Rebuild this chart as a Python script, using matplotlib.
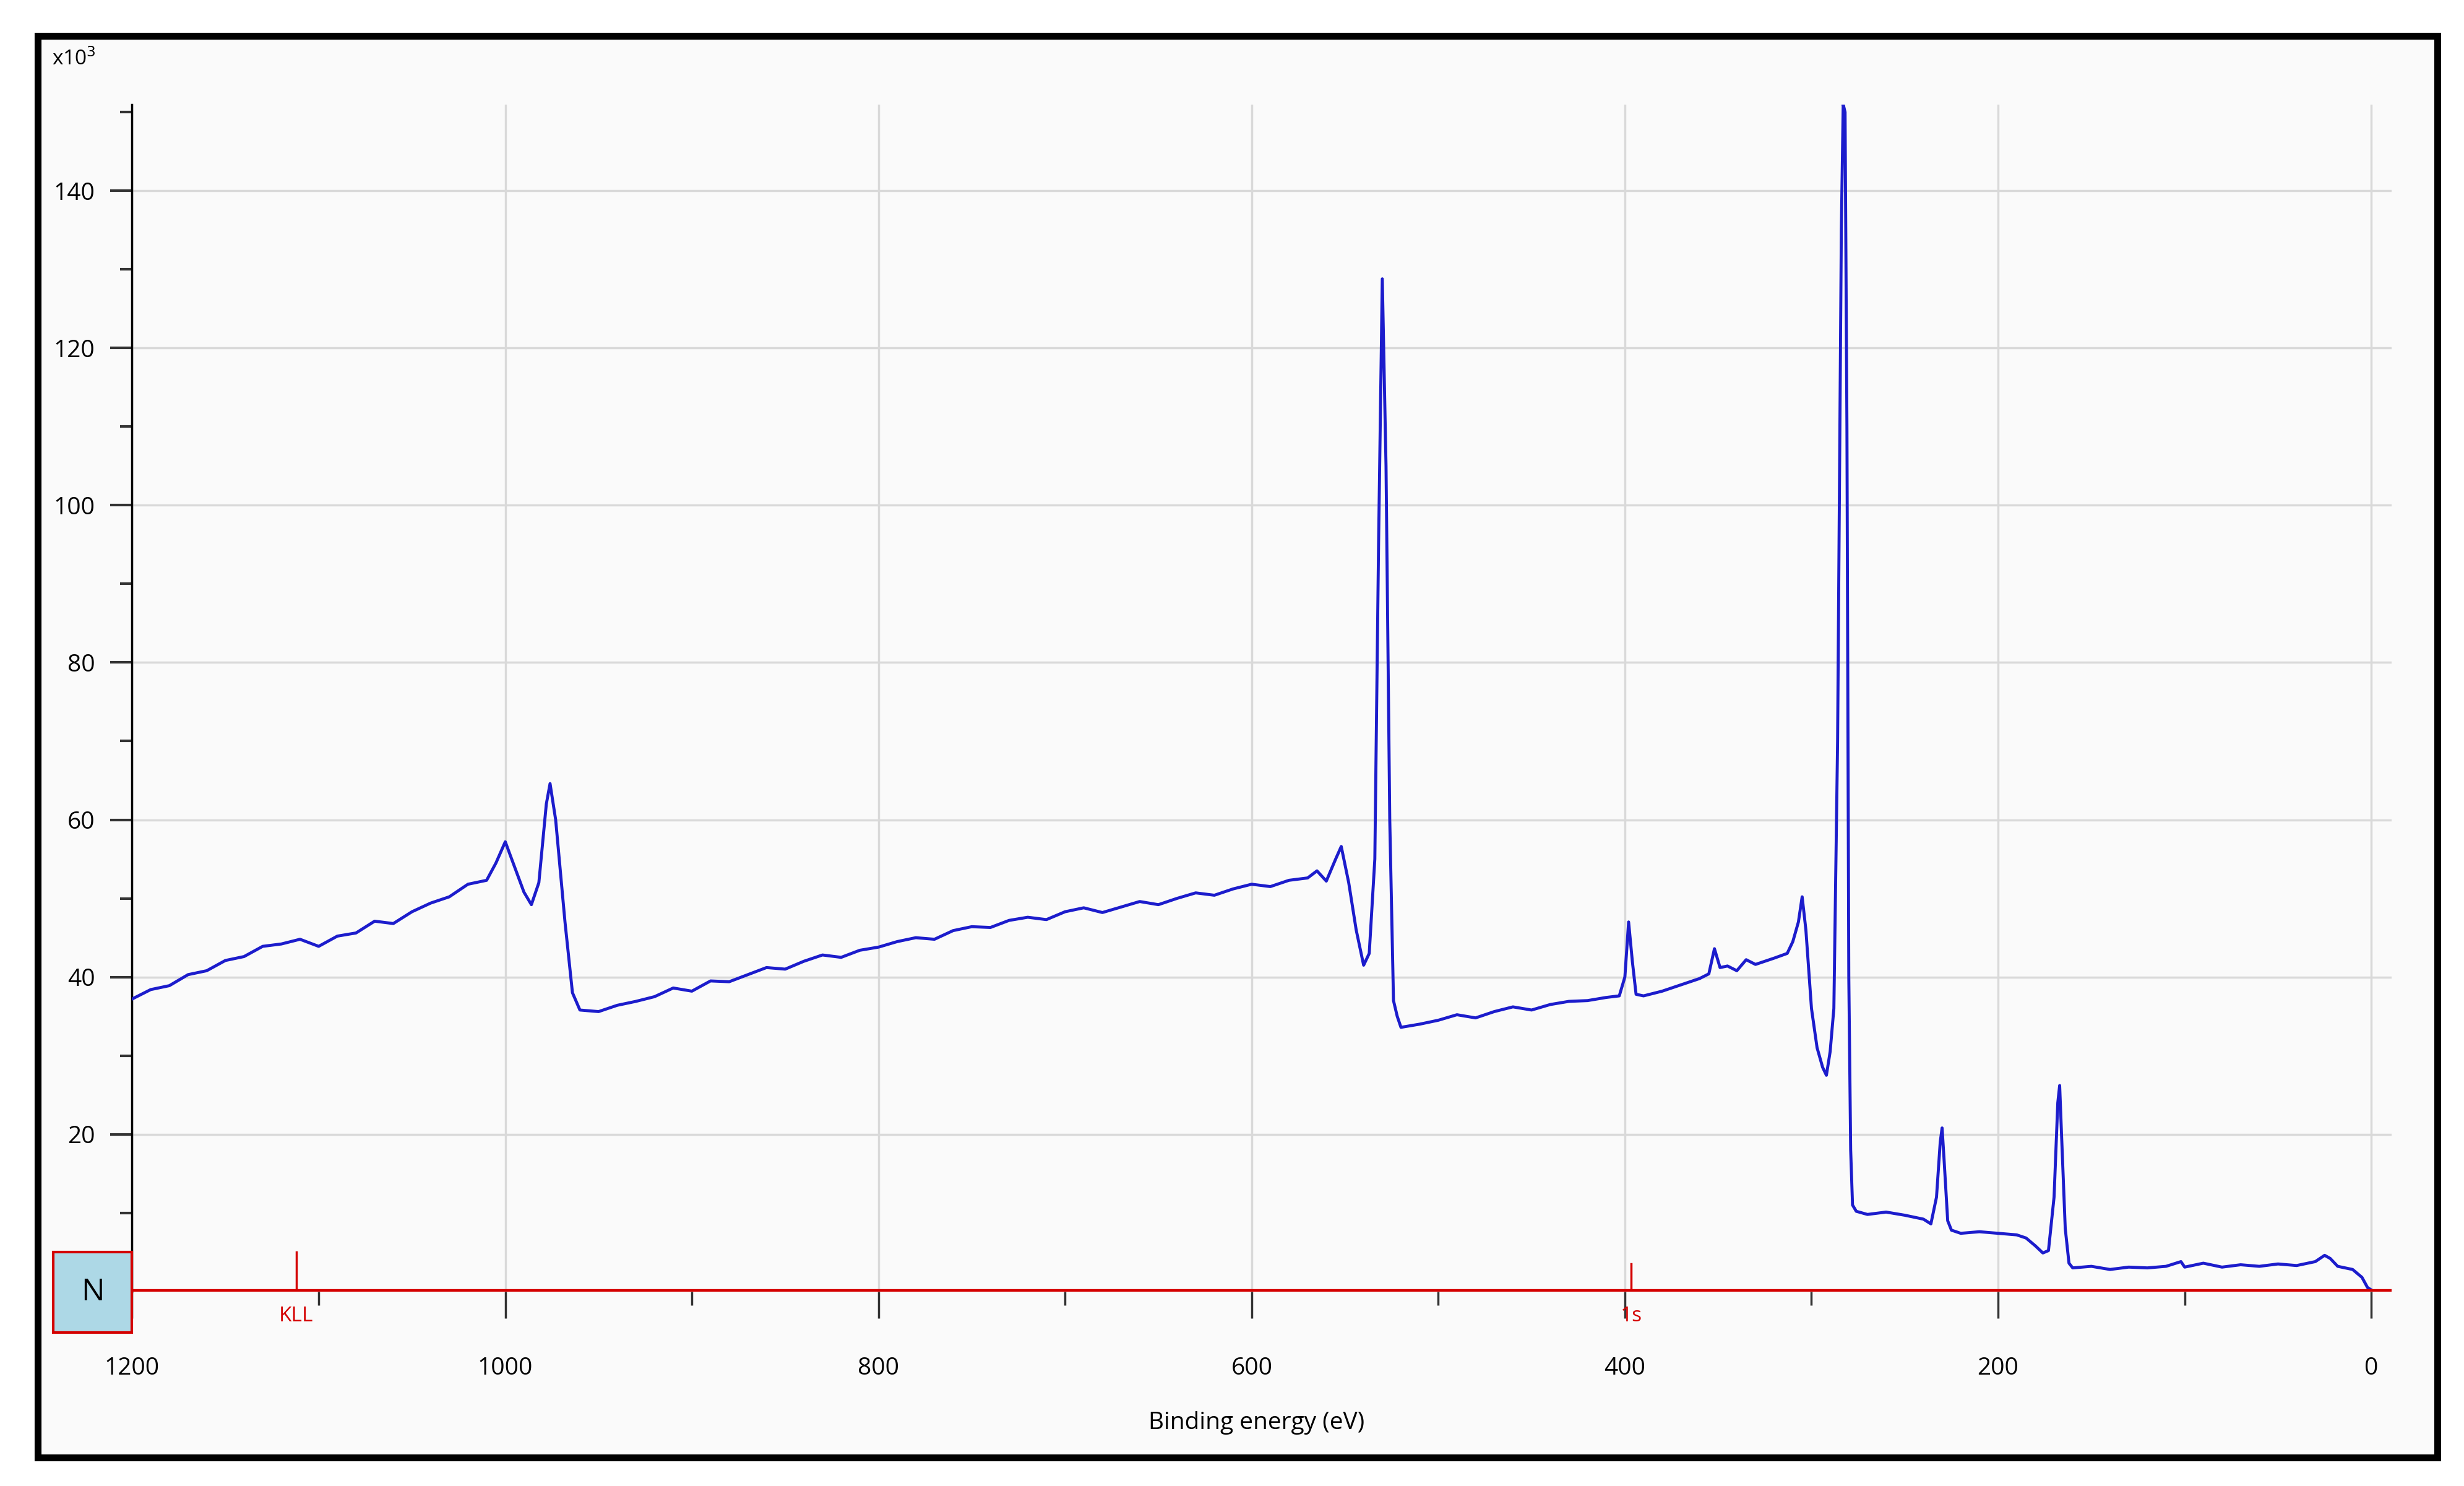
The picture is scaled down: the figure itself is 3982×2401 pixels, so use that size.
import matplotlib.pyplot as plt
from matplotlib.patches import Rectangle
from matplotlib.ticker import MultipleLocator

plt.rcParams['font.family'] = ['Open Sans', 'DejaVu Sans']

# survey spectrum: binding energy (eV) and counts (x10^3)
energy = [1200, 1190, 1180, 1170, 1160, 1150, 1140, 1130, 1120, 1110, 1100, 1090, 1080, 1070,
          1060, 1050, 1040, 1030, 1020, 1010, 1005, 1000, 995, 990, 986, 982, 978, 976, 973, 968,
          964, 960, 950, 940, 930, 920, 910, 900, 890, 880, 870, 860, 850, 840, 830, 820, 810,
          800, 790, 780, 770, 760, 750, 740, 730, 720, 710, 700, 690, 680, 670, 660, 650, 640,
          630, 620, 610, 600, 590, 580, 570, 565, 560, 555, 552, 548, 544, 540, 537, 534, 532,
          530, 528, 526, 524, 522, 520, 510, 500, 490, 480, 470, 460, 450, 440, 430, 420, 410,
          403, 400, 398, 396, 394, 390, 380, 370, 360, 355, 352, 349, 345, 340, 335, 330, 320,
          313, 310, 307, 305, 303, 300, 297, 294, 292, 290, 288, 286, 284, 283, 282, 281, 280,
          279, 278, 276, 270, 260, 250, 240, 236, 233, 231, 230, 229, 227, 225, 220, 210, 200,
          190, 185, 180, 176, 173, 170, 168, 167, 166, 164, 162, 160, 150, 140, 130, 120, 110,
          102, 100, 90, 80, 70, 60, 50, 40, 30, 25, 22, 18, 10, 5, 2, 0]
counts = [37.2, 38.4, 38.9, 40.3, 40.8, 42.1, 42.6, 43.9, 44.2, 44.8, 43.9, 45.2, 45.6, 47.1,
          46.8, 48.3, 49.4, 50.2, 51.8, 52.3, 54.5, 57.2, 54.0, 50.8, 49.2, 52.0, 62.0, 64.6, 60.0, 47.0,
          38.0, 35.8, 35.6, 36.4, 36.9, 37.5, 38.6, 38.2, 39.5, 39.4, 40.3, 41.2, 41.0, 42.0, 42.8, 42.5, 43.4,
          43.8, 44.5, 45.0, 44.8, 45.9, 46.4, 46.3, 47.2, 47.6, 47.3, 48.3, 48.8, 48.2, 48.9, 49.6, 49.2, 50.0,
          50.7, 50.4, 51.2, 51.8, 51.5, 52.3, 52.6, 53.5, 52.2, 55.0, 56.6, 52.0, 46.0, 41.5, 43.0, 55.0, 95.0,
          128.8, 105.0, 60.0, 37.0, 35.0, 33.6, 34.0, 34.5, 35.2, 34.8, 35.6, 36.2, 35.8, 36.5, 36.9, 37.0, 37.4,
          37.6, 40.0, 47.0, 42.0, 37.8, 37.6, 38.2, 39.0, 39.8, 40.4, 43.6, 41.2, 41.4, 40.8, 42.2, 41.6, 42.4,
          43.0, 44.5, 47.0, 50.2, 46.0, 36.0, 31.0, 28.5, 27.5, 30.5, 36.0, 70.0, 135.0, 151.0, 150.0, 110.0, 40.0,
          18.0, 11.0, 10.2, 9.8, 10.1, 9.7, 9.2, 8.6, 12.0, 19.0, 20.8, 17.0, 9.0, 7.8, 7.4, 7.6, 7.4,
          7.2, 6.8, 5.8, 4.9, 5.2, 12.0, 24.0, 26.2, 20.0, 8.0, 3.6, 3.0, 3.2, 2.8, 3.1, 3.0, 3.2,
          3.8, 3.1, 3.6, 3.1, 3.4, 3.2, 3.5, 3.3, 3.8, 4.6, 4.2, 3.2, 2.8, 1.8, 0.5, 0.2]

# nitrogen line markers
marker_names = ["KLL", "1s"]
marker_pos = [1112, 396.5]
marker_top = [5.0, 3.5]

fig = plt.figure(figsize=(39.82, 24.01), dpi=100)
fig.patches.append(Rectangle((0.0153, 0.0191), 0.974, 0.9566, transform=fig.transFigure,
                             facecolor='#fafafa', edgecolor='black', linewidth=8, zorder=-1))

ax = fig.add_axes([0.0536, 0.1309, 0.9171, 0.7989])
ax.set_zorder(1)
ax.set_facecolor('none')
ax.plot(energy, counts, color='#1c1ccc', linewidth=3.5, zorder=3)
ax.set_xlim(1200, -11)
ax.set_ylim(0, 151)

for s in ['top', 'right', 'bottom']:
    ax.spines[s].set_visible(False)
ax.spines['left'].set_linewidth(2.5)
ax.axhline(0, color='#d40000', linewidth=6, zorder=4)

ax.xaxis.set_major_locator(MultipleLocator(200))
ax.xaxis.set_minor_locator(MultipleLocator(100))
ax.yaxis.set_major_locator(MultipleLocator(20))
ax.yaxis.set_minor_locator(MultipleLocator(10))
ax.set_yticks([20, 40, 60, 80, 100, 120, 140])
ax.tick_params(axis='x', which='major', length=31, width=2.5, pad=45, labelsize=28, color='#333333')
ax.tick_params(axis='x', which='minor', length=16, width=2.5, color='#333333')
ax.tick_params(axis='y', which='major', length=25, width=3, pad=18, labelsize=28, color='#333333')
ax.tick_params(axis='y', which='minor', length=14, width=3, color='#333333')
ax.grid(True, which='major', color='#d9d9d9', linewidth=2.5, zorder=1)

for name, pos, top in zip(marker_names, marker_pos, marker_top):
    ax.plot([pos, pos], [0, top], color='#d40000', linewidth=2.5, zorder=4)
    ax.text(pos, -1.8, name, color='#d40000', fontsize=24, ha='center', va='top', zorder=5)

# N element tag
fig.patches.append(Rectangle((0.0217, 0.1032), 0.0319, 0.0543, transform=fig.transFigure,
                             facecolor='#add8e6', edgecolor='#d40000', linewidth=3, zorder=5))
fig.text(0.0376, 0.1303, "N", fontsize=36, ha='center', va='center', zorder=6)

fig.text(0.021, 0.960, "x10$^3$", fontsize=24, ha='left', va='center')
fig.text(0.51, 0.0426, "Binding energy (eV)", fontsize=28, ha='center', va='center')

fig.savefig("out.png", dpi=100)
